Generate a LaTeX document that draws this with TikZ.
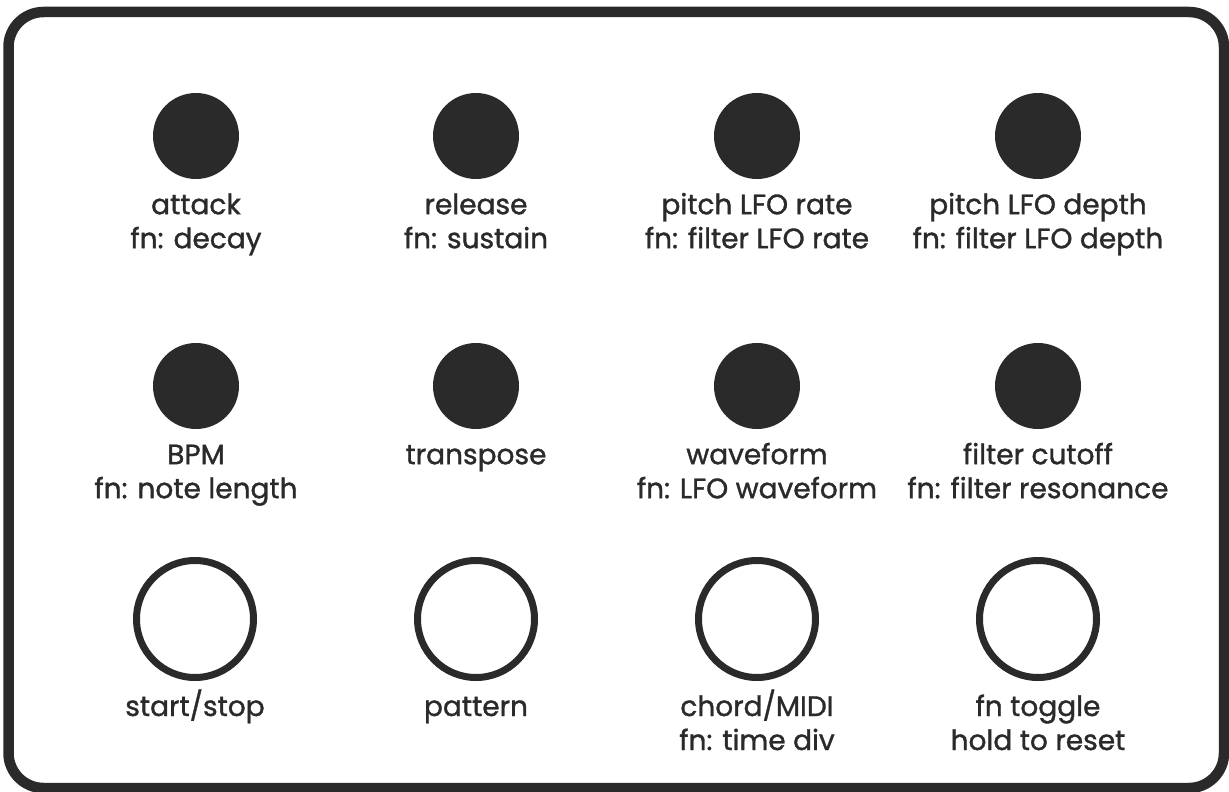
\documentclass[tikz,border=0pt]{standalone}
\usepackage{fontspec}
\setmainfont{Poppins}[FakeBold=1.2]
\definecolor{ink}{HTML}{2A2A2A}
\tikzset{
  panel/.style={draw=ink, line width=10.5pt, rounded corners=35pt},
  knob/.style={circle, fill=ink, minimum size=86pt, inner sep=0pt},
  button/.style={circle, draw=ink, line width=7pt, minimum size=117pt, inner sep=0pt},
  lbl/.style={anchor=base, text=ink, inner sep=0pt, font=\fontsize{28}{33}\selectfont},
}
% control: name, x, y, shape style, first line, second line
\newcommand{\ctrl}[6]{%
  \node[#4] (#1) at (#2,#3) {};
  \path (#1.south) ++(0,35) node[lbl] (#1-a) {#5};
  \path (#1.south) ++(0,69) node[lbl] (#1-b) {#6};
}
\begin{document}
\begin{tikzpicture}[x=1pt,y=-1pt]
\useasboundingbox (0,0) rectangle (1229,792);
\draw[panel] (8.5,12) rectangle (1224,788);
% knob row one
\ctrl{attack}{196}{136}{knob}{attack}{fn: decay}
\ctrl{release}{476}{136}{knob}{release}{fn: sustain}
\ctrl{lforate}{757}{136}{knob}{pitch LFO rate}{fn: filter LFO rate}
\ctrl{lfodepth}{1038}{136}{knob}{pitch LFO depth}{fn: filter LFO depth}
% knob row two
\ctrl{bpm}{196}{386}{knob}{BPM}{fn: note length}
\ctrl{transpose}{476}{386}{knob}{transpose}{}
\ctrl{waveform}{757}{386}{knob}{waveform}{fn: LFO waveform}
\ctrl{cutoff}{1038}{386}{knob}{filter cutoff}{fn: filter resonance}
% buttons
\ctrl{startstop}{195}{619}{button}{start/stop}{}
\ctrl{pattern}{476}{619}{button}{pattern}{}
\ctrl{chord}{757}{619}{button}{chord/MIDI}{fn: time div}
\ctrl{fntoggle}{1038}{619}{button}{fn toggle}{hold to reset}
\end{tikzpicture}
\end{document}
